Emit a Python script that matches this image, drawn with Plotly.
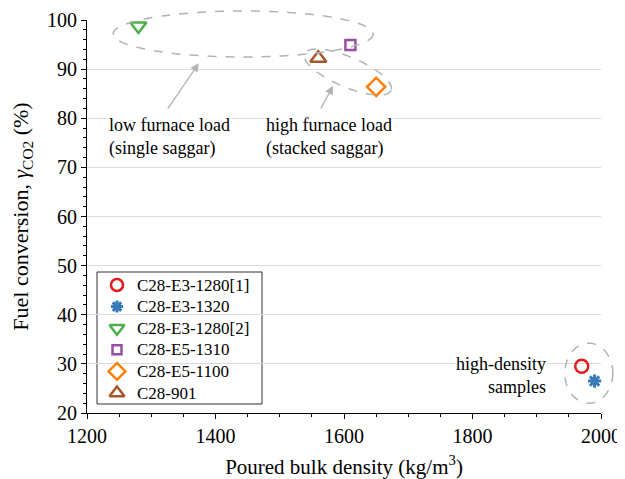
import numpy as np
import plotly.graph_objects as go

# sample data
samples = ["C28-E3-1280[1]", "C28-E3-1320", "C28-E3-1280[2]", "C28-E5-1310", "C28-E5-1100", "C28-901"]
density = [1970, 1990, 1280, 1610, 1650, 1560]
conversion = [29.5, 26.5, 98.8, 94.9, 86.4, 92.2]
symbols = ["circle-open", "asterisk-open", "triangle-down-open", "square-open", "diamond-open", "triangle-up-open"]
colors = ["#e41a1c", "#377eb8", "#4daf4a", "#984ea3", "#ff7f00", "#a65628"]
sizes = [13, 11, 14, 10, 14, 14]

x_range = [1200, 2000]
y_range = [20, 100]

# the page body adds an 8px offset, so the figure is drawn a bit smaller
W, H = 617, 471
ML, MR, MT, MB = 79, 24, 12, 66
PW, PH = W - ML - MR, H - MT - MB

FONT = "Liberation Serif, Times New Roman, serif"
GRAY = "#b3b3b3"


def px_to_x(p):
    return x_range[0] + p / PW * (x_range[1] - x_range[0])


def px_to_y(p):
    return y_range[0] + p / PH * (y_range[1] - y_range[0])


fig = go.Figure()
for name, x, y, sym, col, sz in zip(samples, density, conversion, symbols, colors, sizes):
    fig.add_trace(go.Scatter(
        x=[x], y=[y], mode="markers", name=name, showlegend=False,
        marker=dict(symbol=sym, size=sz, color=col,
                    line=dict(color=col, width=3 if "asterisk" in sym else 2.5)),
        cliponaxis=False,
    ))

# hand-made legend (plotly's own rows are too tall)
leg_x0, leg_x1, leg_top, leg_bot = 10, 175, 141, 9      # px inside plot area
row_top, row_step, mark_x, text_x = 128, 21.6, 30, 48
rows_px = [row_top - i * row_step for i in range(len(samples))]
fig.add_shape(type="rect", xref="paper", yref="paper",
              x0=leg_x0 / PW, x1=leg_x1 / PW, y0=leg_bot / PH, y1=leg_top / PH,
              fillcolor="white", line=dict(color="#333333", width=1), layer="between")
for sym, col, sz, ry in zip(symbols, colors, sizes, rows_px):
    fig.add_trace(go.Scatter(
        x=[px_to_x(mark_x)], y=[px_to_y(ry)], mode="markers",
        showlegend=False, cliponaxis=False, hoverinfo="skip",
        marker=dict(symbol=sym, size=sz - 1, color=col,
                    line=dict(color=col, width=3 if "asterisk" in sym else 2.5)),
    ))
for name, ry in zip(samples, rows_px):
    fig.add_annotation(x=text_x / PW, y=ry / PH, xref="paper", yref="paper", text=name,
                       showarrow=False, xanchor="left", yanchor="middle",
                       font=dict(family=FONT, size=17, color="black"))


def ellipse_path(cx, cy, a_px, b_px, angle_deg):
    # ellipse defined in pixels around a data-space center, returned in paper coords
    t = np.linspace(0, 2 * np.pi, 120)
    ang = np.radians(angle_deg)
    dx = a_px * np.cos(t) * np.cos(ang) - b_px * np.sin(t) * np.sin(ang)
    dy = a_px * np.cos(t) * np.sin(ang) + b_px * np.sin(t) * np.cos(ang)
    px = (cx - x_range[0]) / (x_range[1] - x_range[0]) + dx / PW
    py = (cy - y_range[0]) / (y_range[1] - y_range[0]) - dy / PH
    pts = [f"{u:.4f},{v:.4f}" for u, v in zip(px, py)]
    return "M " + " L ".join(pts) + " Z"


ellipses = [
    (1443, 97.15, 130, 23, 0),
    (1606, 89.4, 47, 15, 23),
    (1981, 28.1, 24, 30, 0),
]
for cx, cy, a, b, ang in ellipses:
    fig.add_shape(type="path", path=ellipse_path(cx, cy, a, b, ang), xref="paper", yref="paper",
                  line=dict(color=GRAY, width=1.5, dash="dash"), layer="above")

# arrows
fig.add_annotation(x=1374, y=91.2, ax=-32, ay=47, text="", showarrow=True,
                   arrowhead=2, arrowsize=1.3, arrowwidth=1.3, arrowcolor=GRAY)
fig.add_annotation(x=1583, y=86.6, ax=-13, ay=24, text="", showarrow=True,
                   arrowhead=2, arrowsize=1.3, arrowwidth=1.3, arrowcolor=GRAY)

txt_font = dict(family=FONT, size=18, color="black")
fig.add_annotation(x=1231, y=76.2, text="low furnace load<br>(single saggar)", showarrow=False,
                   xanchor="left", yanchor="middle", align="left", font=txt_font, bgcolor="white")
fig.add_annotation(x=1475.5, y=76.2, text="high furnace load<br>(stacked saggar)", showarrow=False,
                   xanchor="left", yanchor="middle", align="left", font=txt_font, bgcolor="white")
fig.add_annotation(x=1917.5, y=27.7, text="high-density<br>samples", showarrow=False,
                   xanchor="right", yanchor="middle", align="right", font=txt_font, bgcolor="white")

fig.update_layout(
    width=W, height=H,
    margin=dict(l=ML, r=MR, t=MT, b=MB),
    plot_bgcolor="white", paper_bgcolor="white",
    font=dict(family=FONT, size=20, color="black"),
    xaxis=dict(range=x_range, dtick=200, showgrid=False, zeroline=False, automargin=False,
               showline=True, linecolor="black", linewidth=1,
               ticks="outside", ticklen=5, tickcolor="black",
               minor=dict(dtick=50, ticks="outside", ticklen=3, tickcolor="black"),
               title=dict(text="Poured bulk density (kg/m<sup>3</sup>)", font=dict(size=21))),
    yaxis=dict(range=y_range, dtick=10, showgrid=True, gridcolor="#dcdcdc", gridwidth=1, zeroline=False,
               showline=True, linecolor="black", linewidth=1, automargin=False,
               ticks="outside", ticklen=5, tickcolor="black",
               minor=dict(dtick=2, ticks="outside", ticklen=3, tickcolor="black", showgrid=False),
               title=dict(text="Fuel conversion, <i>γ</i><sub>CO2</sub> (%)", font=dict(size=22))),
)

fig.write_html("out.html")
